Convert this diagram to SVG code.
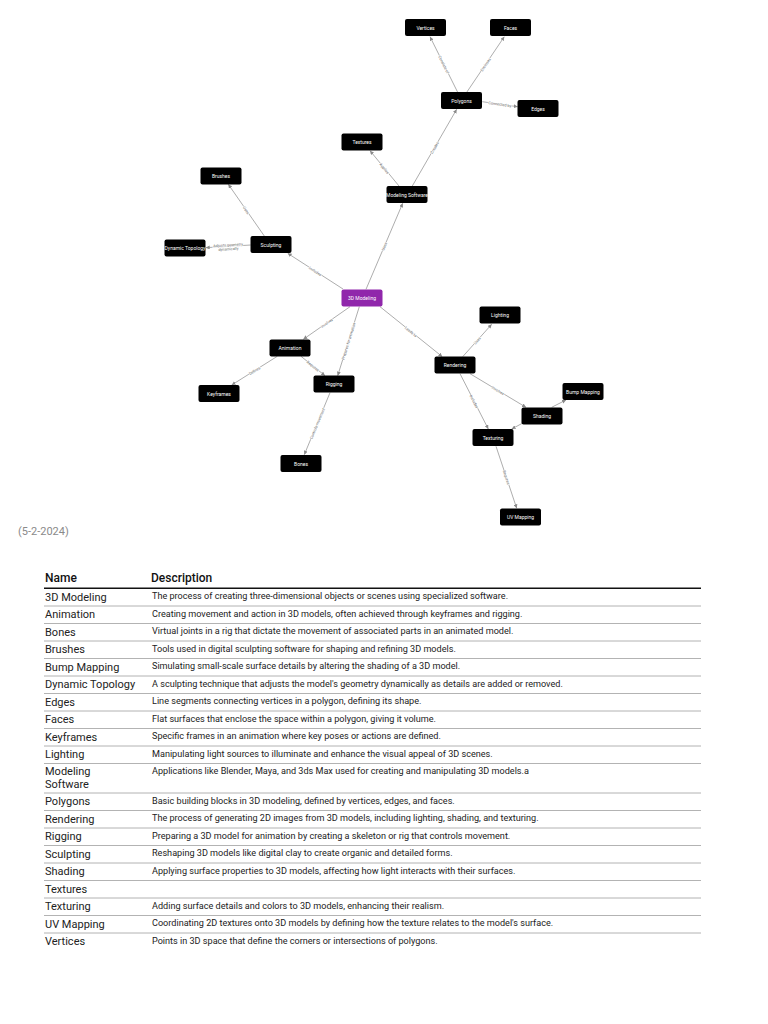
<svg xmlns="http://www.w3.org/2000/svg" width="768" height="1024" viewBox="0 0 768 1024">
<style>
.node rect{fill:#000;rx:2;ry:2}
.node text{fill:#fff;font-family:Roboto,"Liberation Sans",sans-serif;font-size:5px;text-anchor:middle;dominant-baseline:central}
#n3d rect{fill:#9027ab}
.edges line{stroke:#8a8a8a;stroke-width:0.7;marker-end:url(#arr)}
.elab{fill:#666;font-family:Roboto,"Liberation Sans",sans-serif;font-size:3.8px;text-anchor:middle;dominant-baseline:central;stroke:#fff;stroke-width:1.2;paint-order:stroke}
.th{font-family:Roboto,"Liberation Sans",sans-serif;font-size:12px;font-weight:500;fill:#111}
.nm{font-family:Roboto,"Liberation Sans",sans-serif;font-size:11px;fill:#222}
.ds{font-family:Roboto,"Liberation Sans",sans-serif;font-size:9.1px;fill:#222}
.rl{stroke:#a0a0a0;stroke-width:0.8}
</style>
<defs>
<marker id="arr" viewBox="0 0 10 10" refX="10" refY="5" markerWidth="4" markerHeight="4" markerUnits="userSpaceOnUse" orient="auto">
<path d="M0,0 L10,5 L0,10 z" fill="#8a8a8a"/>
</marker>
</defs>
<rect width="768" height="1024" fill="#fff"/>
<g class="edges" id="connectors">
<line x1="457.7" y1="92.3" x2="430" y2="36.7"/>
<line x1="466.7" y1="92.3" x2="504.3" y2="36.7"/>
<line x1="482.3" y1="101.7" x2="517.7" y2="106.7"/>
<line x1="412.3" y1="186" x2="456.7" y2="109.3"/>
<line x1="399" y1="186" x2="370" y2="150.7"/>
<line x1="366" y1="289.3" x2="402.7" y2="203.3"/>
<line x1="343" y1="289" x2="287.7" y2="253.3"/>
<line x1="264.3" y1="236" x2="228.3" y2="184.3"/>
<line x1="250.7" y1="245" x2="205.7" y2="247.7"/>
<line x1="350" y1="306.7" x2="303.3" y2="339.3"/>
<line x1="359.3" y1="306.7" x2="337.7" y2="375.7"/>
<line x1="277.3" y1="356.3" x2="231.7" y2="385"/>
<line x1="301" y1="356.3" x2="325" y2="375.7"/>
<line x1="330" y1="392.7" x2="304.3" y2="454.7"/>
<line x1="380" y1="306.7" x2="442.3" y2="356.7"/>
<line x1="462.7" y1="356.7" x2="491.7" y2="324.3"/>
<line x1="470" y1="373.7" x2="526" y2="407.3"/>
<line x1="460" y1="373.7" x2="488.3" y2="429"/>
<line x1="551.7" y1="407.3" x2="566" y2="400"/>
<line x1="522.3" y1="423.3" x2="511.7" y2="429"/>
<line x1="496" y1="446.3" x2="516.7" y2="508.3"/>
<text class="elab" transform="translate(443.9,64.5) rotate(63.5)">Consists of</text>
<text class="elab" transform="translate(485.5,64.5) rotate(-55.9)">Encloses</text>
<text class="elab" transform="translate(500,104.2) rotate(8)">Connected by</text>
<text class="elab" transform="translate(434.5,147.6) rotate(-59.9)">Creates</text>
<text class="elab" transform="translate(384.5,168.4) rotate(50.6)">Applies</text>
<text class="elab" transform="translate(384.3,246.3) rotate(-66.9)">Uses</text>
<text class="elab" transform="translate(315.3,271.2) rotate(32.8)">Includes</text>
<text class="elab" transform="translate(246.3,210.2) rotate(55.1)">Uses</text>
<text class="elab" transform="translate(228.2,246.3) rotate(-3.4)"><tspan x="0" dy="-2">Adjusts geometry</tspan><tspan x="0" dy="4">dynamically</tspan></text>
<text class="elab" transform="translate(326.7,323) rotate(-34.9)">Involves</text>
<text class="elab" transform="translate(348.5,341.2) rotate(-72.6)">Prepares for animation</text>
<text class="elab" transform="translate(254.5,370.7) rotate(-32.2)">Defines</text>
<text class="elab" transform="translate(313,366) rotate(38.9)">Requires</text>
<text class="elab" transform="translate(317.2,423.7) rotate(-67.5)">Controls movement</text>
<text class="elab" transform="translate(411,331.6) rotate(38.9)">Leads to</text>
<text class="elab" transform="translate(477.2,340.5) rotate(-48.2)">Uses</text>
<text class="elab" transform="translate(498,390.5) rotate(31)">Involves</text>
<text class="elab" transform="translate(474.2,401.4) rotate(62.9)">Includes</text>
<text class="elab" transform="translate(506.4,477.3) rotate(71.5)">Requires</text>
</g>
<g class="node" id="n-vertices"><rect x="405" y="19" width="41" height="17"/><text x="425.5" y="27.5">Vertices</text></g>
<g class="node" id="n-faces"><rect x="490" y="19" width="41" height="17"/><text x="510.5" y="27.5">Faces</text></g>
<g class="node" id="n-polygons"><rect x="441" y="92" width="41" height="17"/><text x="461.5" y="100.5">Polygons</text></g>
<g class="node" id="n-edges"><rect x="517.5" y="100" width="41" height="17"/><text x="538" y="108.5">Edges</text></g>
<g class="node" id="n-textures"><rect x="341.5" y="133.5" width="41" height="17"/><text x="362" y="142">Textures</text></g>
<g class="node" id="n-modsoft"><rect x="386.5" y="186" width="41" height="17"/><text x="407" y="194.5">Modeling Software</text></g>
<g class="node" id="n3d"><rect x="341.5" y="289.5" width="41" height="17"/><text x="362" y="298">3D Modeling</text></g>
<g class="node" id="n-brushes"><rect x="200.5" y="167.5" width="41" height="17"/><text x="221" y="176">Brushes</text></g>
<g class="node" id="n-sculpting"><rect x="250.5" y="236" width="41" height="17"/><text x="271" y="244.5">Sculpting</text></g>
<g class="node" id="n-dyntopo"><rect x="164.5" y="239.5" width="41" height="17"/><text x="185" y="248">Dynamic Topology</text></g>
<g class="node" id="n-animation"><rect x="269.5" y="339.5" width="41" height="17"/><text x="290" y="348">Animation</text></g>
<g class="node" id="n-keyframes"><rect x="198.5" y="385" width="41" height="17"/><text x="219" y="393.5">Keyframes</text></g>
<g class="node" id="n-rigging"><rect x="313.5" y="375.5" width="41" height="17"/><text x="334" y="384">Rigging</text></g>
<g class="node" id="n-bones"><rect x="280.5" y="455" width="41" height="17"/><text x="301" y="463.5">Bones</text></g>
<g class="node" id="n-rendering"><rect x="434.5" y="356.5" width="41" height="17"/><text x="455" y="365">Rendering</text></g>
<g class="node" id="n-lighting"><rect x="479.5" y="306.5" width="41" height="17"/><text x="500" y="315">Lighting</text></g>
<g class="node" id="n-bump"><rect x="562.5" y="383" width="41" height="17"/><text x="583" y="391.5">Bump Mapping</text></g>
<g class="node" id="n-shading"><rect x="521.5" y="407.5" width="41" height="17"/><text x="542" y="416">Shading</text></g>
<g class="node" id="n-texturing"><rect x="472.5" y="429" width="41" height="17"/><text x="493" y="437.5">Texturing</text></g>
<g class="node" id="n-uv"><rect x="500" y="508.5" width="41" height="17"/><text x="520.5" y="517">UV Mapping</text></g>

<text x="18" y="535" font-family="Roboto,'Liberation Sans',sans-serif" font-size="11" fill="#8a8a8a">(5-2-2024)</text>

<g id="table">
<text class="th" x="45" y="582">Name</text>
<text class="th" x="151" y="582">Description</text>
<line x1="44" y1="588.3" x2="701" y2="588.3" stroke="#111" stroke-width="1.6"/>
<g class="rl">
<line x1="44" y1="606" x2="701" y2="606"/>
<line x1="44" y1="623.5" x2="701" y2="623.5"/>
<line x1="44" y1="641" x2="701" y2="641"/>
<line x1="44" y1="658.5" x2="701" y2="658.5"/>
<line x1="44" y1="676" x2="701" y2="676"/>
<line x1="44" y1="693.5" x2="701" y2="693.5"/>
<line x1="44" y1="711" x2="701" y2="711"/>
<line x1="44" y1="728.5" x2="701" y2="728.5"/>
<line x1="44" y1="746" x2="701" y2="746"/>
<line x1="44" y1="763.5" x2="701" y2="763.5"/>
<line x1="44" y1="793" x2="701" y2="793"/>
<line x1="44" y1="810.5" x2="701" y2="810.5"/>
<line x1="44" y1="828" x2="701" y2="828"/>
<line x1="44" y1="845.5" x2="701" y2="845.5"/>
<line x1="44" y1="863" x2="701" y2="863"/>
<line x1="44" y1="880.5" x2="701" y2="880.5"/>
<line x1="44" y1="898" x2="701" y2="898"/>
<line x1="44" y1="915.5" x2="701" y2="915.5"/>
<line x1="44" y1="933" x2="701" y2="933"/>
</g>
<text class="nm" x="45" y="600.8">3D Modeling</text>
<text class="nm" x="45" y="618.3">Animation</text>
<text class="nm" x="45" y="635.8">Bones</text>
<text class="nm" x="45" y="653.3">Brushes</text>
<text class="nm" x="45" y="670.8">Bump Mapping</text>
<text class="nm" x="45" y="688.3">Dynamic Topology</text>
<text class="nm" x="45" y="705.8">Edges</text>
<text class="nm" x="45" y="723.3">Faces</text>
<text class="nm" x="45" y="740.8">Keyframes</text>
<text class="nm" x="45" y="758.3">Lighting</text>
<text class="nm" x="45" y="775">Modeling</text>
<text class="nm" x="45" y="787.5">Software</text>
<text class="nm" x="45" y="805.3">Polygons</text>
<text class="nm" x="45" y="822.8">Rendering</text>
<text class="nm" x="45" y="840.3">Rigging</text>
<text class="nm" x="45" y="857.8">Sculpting</text>
<text class="nm" x="45" y="875.3">Shading</text>
<text class="nm" x="45" y="892.8">Textures</text>
<text class="nm" x="45" y="910.3">Texturing</text>
<text class="nm" x="45" y="927.8">UV Mapping</text>
<text class="nm" x="45" y="945.3">Vertices</text>
<text class="ds" x="152" y="599">The process of creating three-dimensional objects or scenes using specialized software.</text>
<text class="ds" x="152" y="616.5">Creating movement and action in 3D models, often achieved through keyframes and rigging.</text>
<text class="ds" x="152" y="634">Virtual joints in a rig that dictate the movement of associated parts in an animated model.</text>
<text class="ds" x="152" y="651.5">Tools used in digital sculpting software for shaping and refining 3D models.</text>
<text class="ds" x="152" y="669">Simulating small-scale surface details by altering the shading of a 3D model.</text>
<text class="ds" x="152" y="686.5">A sculpting technique that adjusts the model's geometry dynamically as details are added or removed.</text>
<text class="ds" x="152" y="704">Line segments connecting vertices in a polygon, defining its shape.</text>
<text class="ds" x="152" y="721.5">Flat surfaces that enclose the space within a polygon, giving it volume.</text>
<text class="ds" x="152" y="739">Specific frames in an animation where key poses or actions are defined.</text>
<text class="ds" x="152" y="756.5">Manipulating light sources to illuminate and enhance the visual appeal of 3D scenes.</text>
<text class="ds" x="152" y="774">Applications like Blender, Maya, and 3ds Max used for creating and manipulating 3D models.a</text>
<text class="ds" x="152" y="803.5">Basic building blocks in 3D modeling, defined by vertices, edges, and faces.</text>
<text class="ds" x="152" y="821">The process of generating 2D images from 3D models, including lighting, shading, and texturing.</text>
<text class="ds" x="152" y="838.5">Preparing a 3D model for animation by creating a skeleton or rig that controls movement.</text>
<text class="ds" x="152" y="856">Reshaping 3D models like digital clay to create organic and detailed forms.</text>
<text class="ds" x="152" y="873.5">Applying surface properties to 3D models, affecting how light interacts with their surfaces.</text>
<text class="ds" x="152" y="908.5">Adding surface details and colors to 3D models, enhancing their realism.</text>
<text class="ds" x="152" y="926">Coordinating 2D textures onto 3D models by defining how the texture relates to the model's surface.</text>
<text class="ds" x="152" y="943.5">Points in 3D space that define the corners or intersections of polygons.</text>
</g>
</svg>
